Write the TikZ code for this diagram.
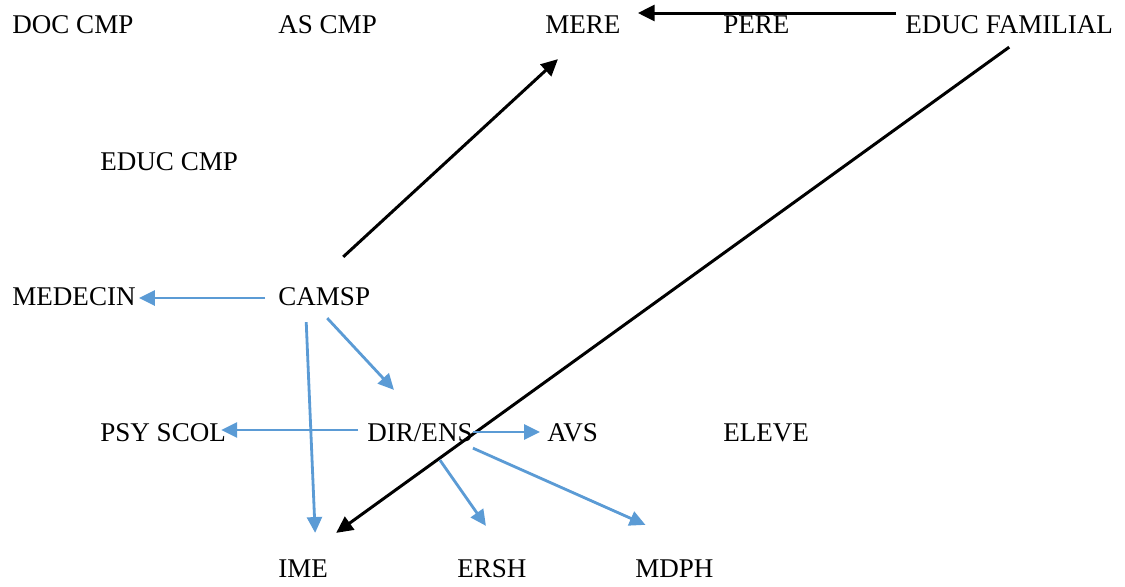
\documentclass[tikz,border=0pt]{standalone}
\usepackage{fontspec}
\setmainfont{Liberation Serif}
\usetikzlibrary{arrows.meta,calc}
\definecolor{lienbleu}{HTML}{5B9BD5}
\begin{document}
\begin{tikzpicture}[x=0.02cm,y=-0.02cm,
  lbl/.style={inner sep=0pt,anchor=west,text height=10pt,text depth=0pt,font=\fontsize{15.4}{18}\selectfont},
  noir/.style={line width=1.7pt,-{Triangle[length=9.5pt,width=9pt]}},
  bleu/.style={line width=1.6pt,lienbleu,-{Triangle[length=9pt,width=8.5pt]}}]
\useasboundingbox (0,0) rectangle (1125,586);
% ligne du haut
\node[lbl] (doc) at (12,25) {DOC CMP};
\node[lbl] (as) at (278,25) {AS CMP};
\node[lbl] (mere) at (545,25) {MERE};
\node[lbl] (pere) at (723,25) {PERE};
\node[lbl] (efam) at (905,25) {EDUC FAMILIAL};
\node[lbl] (educ) at (100,162) {EDUC CMP};
\node[lbl] (medecin) at (12,297) {MEDECIN};
\node[lbl] (camsp) at (278,297) {CAMSP};
\node[lbl] (psy) at (100,433) {PSY SCOL};
\node[lbl] (dir) at (367,433) {DIR/ENS};
\node[lbl] (avs) at (547,433) {AVS};
\node[lbl] (eleve) at (723,433) {ELEVE};
% ligne du bas
\node[lbl] (ime) at (278,569) {IME};
\node[lbl] (ersh) at (457,569) {ERSH};
\node[lbl] (mdph) at (635,569) {MDPH};
% fleches noires
\draw[noir] ($(efam.west)+(-9,-12)$) -- ($(mere.east)+(17,-12)$);
\draw[noir] ($(camsp.north)+(19,-31)$) -- ($(mere.south)+(-25,25)$);
\draw[noir] ($(efam.south)+(0,13)$) -- ($(ime.north)+(33,-27)$);
% fleches bleues
\draw[bleu] ($(camsp.west)+(-13,1)$) -- ($(medecin.east)+(3,1)$);
\draw[bleu] ($(camsp.south)+(-18,16)$) -- ($(ime.north)+(12,-27)$);
\draw[bleu] ($(camsp.south)+(3,12)$) -- ($(dir.north)+(-26,-34)$);
\draw[bleu] ($(dir.west)+(-9,-3)$) -- ($(psy.east)+(-5,-3)$);
\draw[bleu] ($(dir.east)+(0,-1)$) -- ($(avs.west)+(-7,-1)$);
\draw[bleu] ($(dir.south)+(20,18)$) -- ($(ersh.north)+(-6,-34)$);
\draw[bleu] ($(dir.south east)+(0,6)$) -- ($(mdph.north)+(-29,-35)$);
\end{tikzpicture}
\end{document}
